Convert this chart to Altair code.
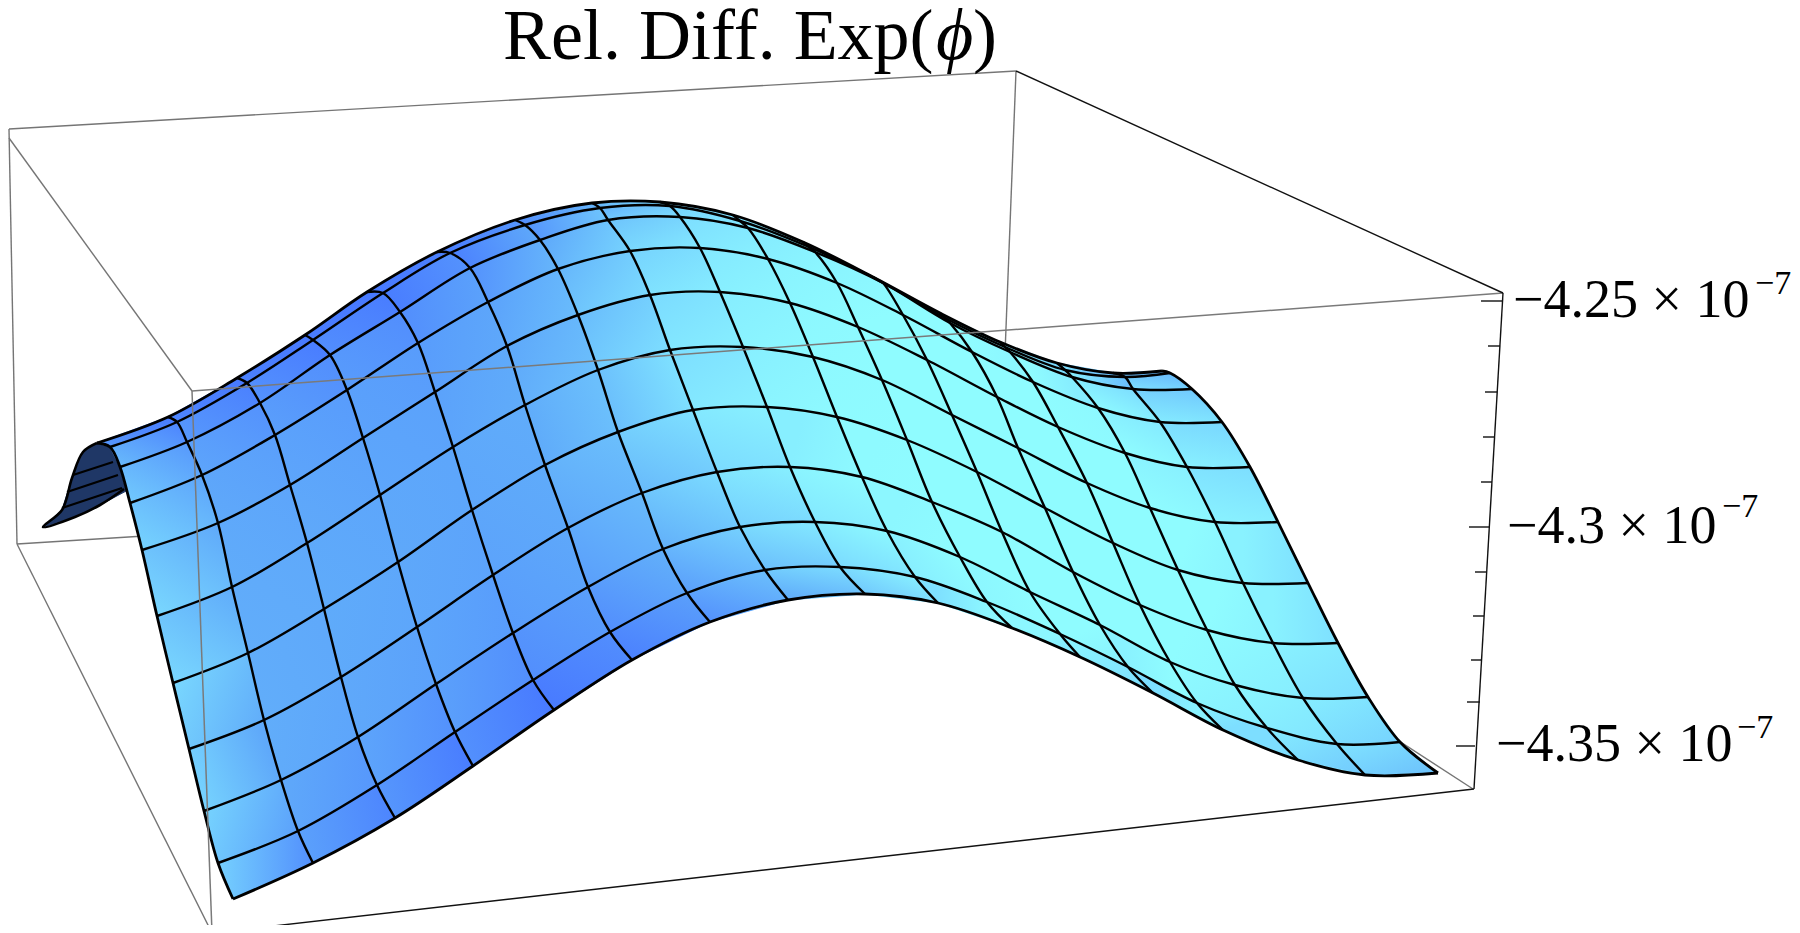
import altair as alt

# Surface nodes: rows run along the wave, columns across it (image pixels)
u0 = [(233,899),(313,863),(395,818),(473,766),(554,710),(632,660),(710,622),(788,600),(865,594),(938,603),(1012,628),(1080,657),(1153,693),(1223,730),(1298,760),(1365,775),(1438,773)]
u1 = [(218,863),(298,831),(377,785),(455,732),(533,680),(610,632),(687,593),(765,570),(840,567),(915,577),(987,602),(1060,634),(1128,667),(1197,703),(1267,728),(1337,744),(1400,742)]
u2 = [(204,811),(281,780),(358,737),(436,684),(513,633),(588,587),(663,549),(740,527),(815,522),(887,531),(960,557),(1030,592),(1100,625),(1170,662),(1235,685),(1303,698),(1368,697)]
u3 = [(189,749),(264,720),(341,677),(417,627),(493,575),(568,528),(642,493),(717,472),(790,467),(862,477),(932,502),(1002,532),(1073,572),(1140,605),(1207,630),(1273,643),(1338,643)]
u4 = [(173,683),(248,653),(324,609),(398,562),(472,510),(545,465),(618,432),(693,410),(767,407),(837,417),(907,440),(977,472),(1045,508),(1113,543),(1178,570),(1243,583),(1308,583)]
u5 = [(157,616),(232,587),(307,543),(380,495),(453,447),(525,405),(598,370),(670,350),(743,347),(813,357),(882,380),(952,415),(1018,448),(1087,483),(1150,508),(1215,522),(1278,522)]
u6 = [(142,550),(218,523),(290,485),(363,438),(435,392),(507,346),(578,315),(650,295),(720,292),(790,303),(858,327),(927,360),(997,397),(1058,427),(1125,453),(1187,467),(1250,467)]
u7 = [(130,503),(202,475),(275,435),(347,390),(418,343),(488,302),(558,269),(630,251),(700,248),(768,259),(837,283),(903,315),(972,352),(1033,382),(1098,408),(1160,422),(1222,422)]
u8 = [(120,467),(187,442),(260,403),(330,355),(400,312),(470,268),(540,240),(608,220),(680,217),(748,228),(815,252),(883,283),(950,323),(1010,352),(1072,377),(1133,389),(1192,389)]
u9 = [(110,447),(177,422),(247,383),(313,340),(383,293),(450,253),(525,225),(600,208),(670,206),(740,221),(809,247),(878,280),(945,318),(1005,347),(1065,370),(1125,377),(1170,373)]
u10 = [(97,443),(168,417),(237,378),(305,335),(367,292),(437,252),(515,220),(592,203),(660,202),(733,215),(803,242),(873,277),(940,313),(1000,342),(1057,363),(1113,373),(1162,371)]
ROWS = [u0,u1,u2,u3,u4,u5,u6,u7,u8,u9,u10]

# Estimated shade at each node: 0 deep blue, 1 cyan
s0 = [.30,.15,.08,.02,0,.05,.16,.34,.55,.72,.8,.75,.7,.7,.7,.55,.5]
s1 = [.6,.27,.2,.16,.14,.14,.26,.48,.68,.86,.95,.95,.9,.9,.85,.75,.62]
s2 = [.62,.33,.3,.27,.24,.26,.38,.6,.8,.95,1,1,1,1,.95,.85,.7]
s3 = [.62,.36,.33,.31,.29,.32,.45,.68,.87,.98,1,1,1,1,1,.9,.72]
s4 = [.65,.36,.34,.32,.31,.34,.48,.72,.88,.98,1,1,1,1,1,.9,.72]
s5 = [.65,.35,.33,.31,.31,.35,.48,.7,.87,.97,1,1,1,1,1,.9,.72]
s6 = [.62,.33,.3,.28,.28,.32,.46,.68,.85,.95,1,1,1,1,1,.88,.7]
s7 = [.55,.3,.26,.24,.24,.28,.42,.62,.8,.9,.97,1,1,1,.97,.82,.65]
s8 = [.45,.22,.17,.14,.14,.17,.32,.52,.7,.82,.9,.95,1,.95,.85,.7,.55]
s9 = [.2,.08,.05,.02,.02,.05,.18,.4,.62,.75,.85,.92,.95,.85,.7,.5,.45]
s10 = [.1,.02,0,0,0,.02,.15,.4,.6,.75,.85,.9,.9,.8,.65,.42,.4]
SHADES = [s0,s1,s2,s3,s4,s5,s6,s7,s8,s9,s10]
RAMP = [(0,(72,122,255)),(.35,(96,172,250)),(.7,(125,222,255)),(1,(143,252,255))]

# The dark underside seen at the far left
under_x = [97,83,72,62,43,75,100,128,128,118,106]
under_y = [443,452,478,510,527,517,505,490,475,452,444]
under_lines = [[(73,475),(113,462)],[(67,492),(118,475)],[(62,508),(122,488)]]
under_outline_x = [97,83,72,62,43,75,100,124]
under_outline_y = [443,452,478,510,527,517,505,489]

# Bounding box edges
back_edges = [(9,129,1016,71),(9,129,17,544),(1016,71,1000,482),(17,544,1000,482),(1000,482,1473,789),(17,544,212,933),(9,138,192,391)]
front_gray = [(192,391,1503,293),(192,391,212,933)]
front_black = [(1016,71,1503,293),(1503,293,1474,789),(212,933,1474,789)]

# Value axis ticks
tick_x1 = [1481,1488,1485,1483,1481,1469,1475,1473,1471,1467,1456]
tick_x2 = [1502,1500,1497,1494,1492,1490,1486,1484,1482,1480,1475]
tick_y = [301,346,392,437,482,527,572,616,660,702,746]

# Text
labels = ["\u22124.25 \u00d7 10","\u22124.3 \u00d7 10","\u22124.35 \u00d7 10"]
label_x = [1513,1507,1496]
label_y = [317,543,761]
exp_x = [1755,1722,1737]
exp_y = [294,517,738]
title_parts = [("Rel. Diff. Exp(",503,"normal"),("\u03d5",936,"italic"),(")",973,"normal")]
TITLE_Y = 59


def colour(s):
    for (a, ca), (b, cb) in zip(RAMP, RAMP[1:]):
        if s <= b:
            t = (s - a) / (b - a)
            c = [round(p + (q - p) * t) for p, q in zip(ca, cb)]
            return "#%02x%02x%02x" % tuple(c)
    return "#8ffcff"


cells = []
for i in range(10):
    for j in range(16):
        corners = [(i, j), (i, j + 1), (i + 1, j + 1), (i + 1, j)]
        pts = [ROWS[a][b] for a, b in corners]
        vals = [SHADES[a][b] for a, b in corners]
        xs, ys = [p[0] for p in pts], [p[1] for p in pts]
        x0, x1, y0, y1 = min(xs), max(xs), min(ys), max(ys)
        lo = vals.index(min(vals))
        hi = vals.index(max(vals))
        fx = lambda k: (xs[k] - x0) / max(x1 - x0, 1)
        fy = lambda k: (ys[k] - y0) / max(y1 - y0, 1)
        grad = {"gradient": "linear", "x1": fx(lo), "y1": fy(lo), "x2": fx(hi), "y2": fy(hi),
                "stops": [{"offset": 0, "color": colour(vals[lo])}, {"offset": 1, "color": colour(vals[hi])}]}
        ring = [list(p) for p in pts] + [list(pts[0])]
        cells.append({"type": "Feature", "geometry": {"type": "Polygon", "coordinates": [ring]},
                      "properties": {"g": grad, "c": colour(sum(vals) / 4)}})

under_ring = [[x, y] for x, y in zip(under_x, under_y)] + [[under_x[0], under_y[0]]]
under = [{"type": "Feature", "geometry": {"type": "Polygon", "coordinates": [under_ring]}, "properties": {}}]

line_rows = []
for i, row in enumerate(ROWS):
    for k, (x, y) in enumerate(row):
        line_rows.append({"id": f"u{i}", "k": k, "x": x, "y": y})
for j in range(17):
    for i, row in enumerate(ROWS):
        line_rows.append({"id": f"v{j}", "k": i, "x": row[j][0], "y": row[j][1]})
edge_ids = {"u0", "u10", "v0", "v16"}
inner_rows = [r for r in line_rows if r["id"] not in edge_ids]
edge_rows = [r for r in line_rows if r["id"] in edge_ids]
under_rows = []
for n, seg in enumerate(under_lines):
    for k, (x, y) in enumerate(seg):
        under_rows.append({"id": n, "k": k, "x": x, "y": y})
ring_rows = [{"id": 9, "k": k, "x": x, "y": y} for k, (x, y) in enumerate(zip(under_outline_x, under_outline_y))]

X = alt.X("x:Q", scale=alt.Scale(domain=[8, 1792], nice=False, zero=False), axis=None)
Y = alt.Y("y:Q", scale=alt.Scale(domain=[925, 8], nice=False, zero=False), axis=None)


def edges(rows, colour_, width):
    data = alt.Data(values=[{"x": a, "y": b, "x2": c, "y2": d} for a, b, c, d in rows])
    return alt.Chart(data).mark_rule(color=colour_, strokeWidth=width, clip=False).encode(
        x=X, y=Y, x2="x2:Q", y2="y2:Q")


def lines(rows, width):
    return alt.Chart(alt.Data(values=rows)).mark_line(
        color="black", strokeWidth=width, interpolate="catmull-rom", clip=False).encode(
        x=X, y=Y, detail="id:N", order="k:Q")


def text(rows, size, style="normal"):
    return alt.Chart(alt.Data(values=rows)).mark_text(
        font="Liberation Serif", fontSize=size, fontStyle=style, align="left",
        baseline="alphabetic", color="black").encode(x=X, y=Y, text="t:N")


under_layer = alt.Chart(alt.Data(values=under)).mark_geoshape(fill="#1f3766", stroke="#1f3766").project(
    type="identity", scale=1, translate=[-8, -8])
cell_layer = alt.Chart(alt.Data(values=cells)).mark_geoshape(strokeWidth=1).encode(
    fill=alt.Fill("properties.g:N", scale=None, legend=None),
    stroke=alt.Stroke("properties.c:N", scale=None, legend=None)).project(
    type="identity", scale=1, translate=[-8, -8])

tick_data = [(a, y, b, y) for a, b, y in zip(tick_x1, tick_x2, tick_y)]
chart = alt.layer(
    edges(back_edges, "#757575", 1.4),
    under_layer,
    cell_layer,
    lines(under_rows, 2.2),
    lines(ring_rows, 2.6),
    lines(inner_rows, 2.4),
    lines(edge_rows, 2.8),
    edges(front_gray, "#7a7a7a", 1.5),
    edges(front_black, "#111111", 1.4),
    edges(tick_data, "#111111", 1.4),
    text([{"t": t, "x": x, "y": y} for t, x, y in zip(labels, label_x, label_y)], 54),
    text([{"t": "\u22127", "x": x, "y": y} for x, y in zip(exp_x, exp_y)], 34),
    text([{"t": t, "x": x, "y": TITLE_Y} for t, x, s in title_parts if s == "normal"], 72),
    text([{"t": t, "x": x, "y": TITLE_Y} for t, x, s in title_parts if s == "italic"], 72, "italic"),
).properties(width=1784, height=917, padding=0, autosize=alt.AutoSizeParams(type="none"),
             background="white").configure_view(stroke=None)

chart.save("out.html", embed_options={"renderer": "svg", "actions": False})
